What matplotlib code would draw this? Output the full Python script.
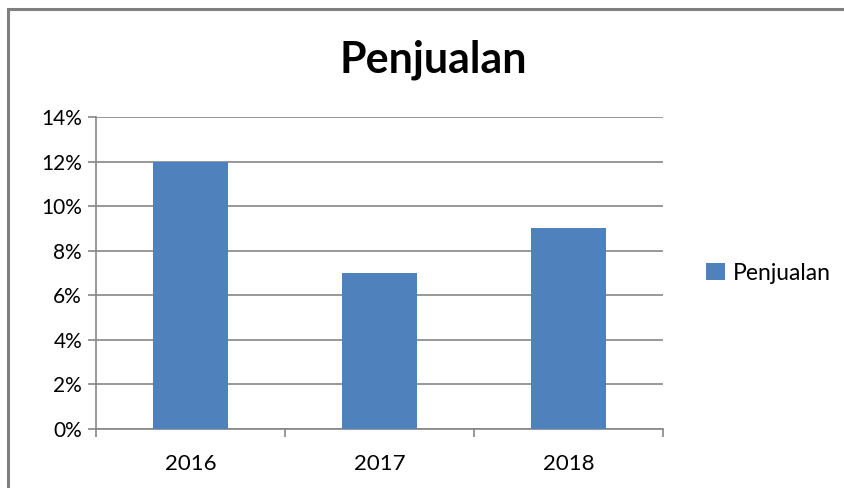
import matplotlib.pyplot as plt
from matplotlib.patches import Rectangle
from matplotlib.ticker import FuncFormatter, MultipleLocator

years = ["2016", "2017", "2018"]
penjualan = [0.12, 0.07, 0.09]
series_name = "Penjualan"

plt.rcParams['font.family'] = ['Lato', 'DejaVu Sans']

fig = plt.figure(figsize=(8.45, 4.88), dpi=100)
W, H = 845, 488

# outer chart frame (only top and left edges visible in the crop)
fig.patches.append(Rectangle((8.5 / W, -0.1), 1.2, 1.1 - 9.0 / H,
                             transform=fig.transFigure, fill=False,
                             edgecolor='#808080', linewidth=2.2))

ax = fig.add_axes([96 / W, 1 - 429 / H, (663 - 96) / W, (429 - 117) / H])

x = list(range(len(years)))
ax.bar(x, penjualan, width=0.4, color='#4f81bd', label=series_name, zorder=3)

ax.set_xlim(-0.5, len(years) - 0.5)
ax.set_ylim(0, 0.14)
ax.yaxis.set_major_locator(MultipleLocator(0.02))
ax.yaxis.set_major_formatter(FuncFormatter(lambda v, p: f"{v * 100:.0f}%"))
ax.grid(axis='y', color='#868686', linewidth=1.2, zorder=0)

ax.set_xticks(x)
ax.set_xticklabels(years)
ax.set_xticks([-0.5, 0.5, 1.5, 2.5], minor=True)
ax.tick_params(axis='x', which='major', length=0, pad=18, labelsize=16)
ax.tick_params(axis='x', which='minor', length=6, width=1.2, color='#868686')
ax.tick_params(axis='y', length=6, width=1.2, color='#868686', labelsize=15, pad=4)

for s in ['top', 'right']:
    ax.spines[s].set_visible(False)
for s in ['left', 'bottom']:
    ax.spines[s].set_color('#868686')
    ax.spines[s].set_linewidth(1.2)

fig.text(433 / W, 1 - 60 / H, "Penjualan", ha='center', va='center',
         fontsize=31, fontweight='bold')

ax.legend(loc='center left', bbox_to_anchor=(1.04, 0.5), frameon=False,
          fontsize=16.5, handlelength=0.8, handleheight=0.8, handletextpad=0.35)

fig.savefig("out.png", dpi=100)
